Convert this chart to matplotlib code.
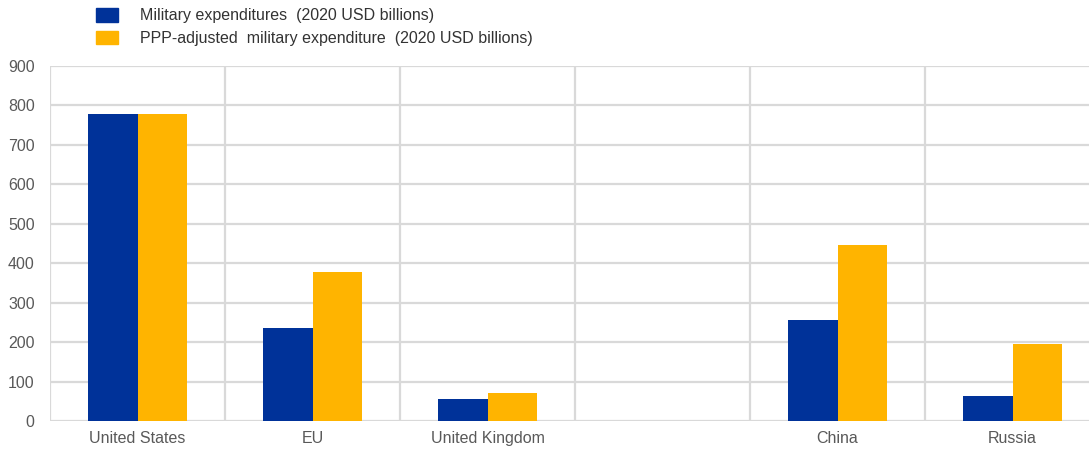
import numpy as np
import matplotlib
matplotlib.use("Agg")
import matplotlib.pyplot as plt
from matplotlib.patches import Patch

# data
countries = ["United States", "EU", "United Kingdom", "", "China", "Russia"]
military = [778, 236, 57, np.nan, 256, 64]
ppp_adjusted = [778, 378, 72, np.nan, 446, 195]
yticks = [0, 100, 200, 300, 400, 500, 600, 700, 800, 900]

blue = "#003299"
yellow = "#ffb400"
grid_c = "#d9d9d9"
txt_c = "#595959"

plt.rcParams["font.family"] = ["Liberation Sans", "DejaVu Sans"]

fig = plt.figure(figsize=(10.89, 4.5), dpi=100)
W, H = 1089, 450
# axes spans past the right edge, like the original
ax = fig.add_axes([50 / W, 1 - 421 / H, 1050 / W, 355 / H])

x = np.arange(len(countries))
w = 0.285
ax.bar(x - w / 2, military, w, color=blue, zorder=3)
ax.bar(x + w / 2, ppp_adjusted, w, color=yellow, zorder=3)

ax.set_xlim(-0.5, len(countries) - 0.5)
ax.set_ylim(0, 900)
ax.set_yticks(yticks)
ax.set_xticks(x)
ax.set_xticklabels(countries)

# horizontal grid + vertical separators between categories
for y in yticks:
    ax.axhline(y, color=grid_c, lw=1.6, zorder=1)
for b in np.arange(-0.5, len(countries), 1.0):
    ax.axvline(b, color=grid_c, lw=1.6, zorder=1)

for s in ax.spines.values():
    s.set_visible(False)
ax.tick_params(axis="both", length=0, colors=txt_c, labelsize=11.5)
ax.tick_params(axis="x", pad=7)
ax.tick_params(axis="y", pad=11)

handles = [Patch(color=blue), Patch(color=yellow)]
labels = ["Military expenditures  (2020 USD billions)",
          "PPP-adjusted  military expenditure  (2020 USD billions)"]
fig.legend(handles, labels, loc="upper left", bbox_to_anchor=(88 / W, 1.0),
           frameon=False, fontsize=11.5, handlelength=1.35, handleheight=0.95,
           handletextpad=1.4, labelspacing=0.45, borderaxespad=0.1,
           labelcolor="#333333")

fig.savefig("out.png", dpi=100)
